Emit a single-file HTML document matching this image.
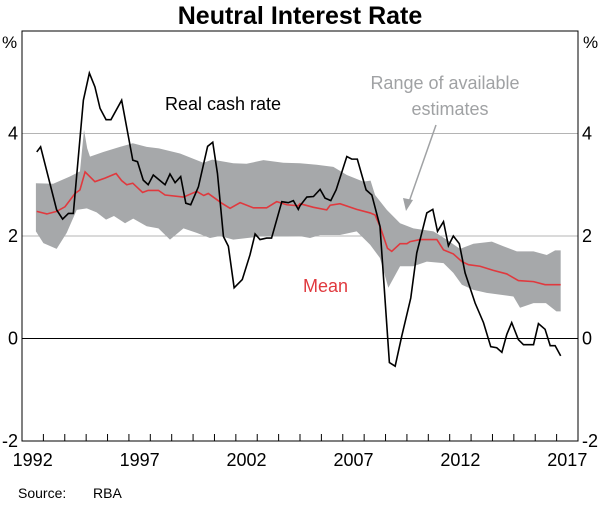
<!DOCTYPE html>
<html><head><meta charset="utf-8"><style>
body{margin:0;background:#fff;font-family:"Liberation Sans",Arial,sans-serif}
svg text{font-family:"Liberation Sans",Arial,sans-serif}
</style></head><body>
<svg id="chart" width="600" height="500" xmlns="http://www.w3.org/2000/svg">
<text x="300" y="24" text-anchor="middle" font-size="25" font-weight="bold">Neutral Interest Rate</text>
<g id="grid"></g>
<g id="band"></g>
<g id="lines"></g>
<g id="axes"></g>
<text x="165" y="110" font-size="18" fill="#000">Real cash rate</text>
<text x="445" y="89" text-anchor="middle" font-size="18" fill="#a0a2a4">Range of available</text>
<text x="450" y="115" text-anchor="middle" font-size="18" fill="#a0a2a4">estimates</text>
<line x1="436" y1="125" x2="409" y2="202" stroke="#a0a2a4" stroke-width="1.5"/>
<polygon points="406,211 403,198 413,200" fill="#a0a2a4"/>
<text x="303" y="292" font-size="18" fill="#e0393e">Mean</text>
<text x="18" y="498" font-size="14">Source:</text>
<text x="93" y="498" font-size="14">RBA</text>
</svg>
<script>
const cashT=[1992.69,1992.87,1993.62,1993.9,1994.17,1994.4,1994.87,1995.15,1995.41,1995.65,1995.93,1996.16,1996.66,1997.18,1997.4,1997.67,1997.9,1998.14,1998.69,1998.92,1999.16,1999.42,1999.66,1999.89,2000.25,2000.68,2000.92,2001.14,2001.42,2001.65,2001.92,2002.3,2002.66,2002.9,2003.13,2003.44,2003.67,2004.15,2004.45,2004.69,2004.92,2005.0,2005.32,2005.63,2005.94,2006.17,2006.44,2006.69,2007.19,2007.42,2007.68,2008.09,2008.36,2008.74,2009.18,2009.45,2009.76,2010.18,2010.46,2010.93,2011.21,2011.43,2011.71,2011.94,2012.17,2012.45,2012.72,2013.19,2013.58,2013.92,2014.2,2014.44,2014.67,2014.9,2015.21,2015.45,2015.74,2015.92,2016.15,2016.46,2016.7,2016.93,2017.19];
const cashV=[3.64,3.74,2.51,2.33,2.44,2.44,4.65,5.18,4.91,4.49,4.27,4.27,4.65,3.48,3.45,3.09,3.0,3.19,3.0,3.21,3.04,3.16,2.64,2.61,2.96,3.75,3.83,3.22,1.99,1.8,0.99,1.15,1.63,2.04,1.93,1.96,1.96,2.67,2.65,2.69,2.52,2.59,2.76,2.77,2.91,2.74,2.69,2.9,3.55,3.5,3.5,2.9,2.8,2.19,-0.47,-0.54,0.05,0.79,1.67,2.45,2.52,2.09,2.28,1.81,2.0,1.85,1.28,0.69,0.31,-0.16,-0.18,-0.27,0.08,0.31,-0.02,-0.12,-0.12,-0.12,0.29,0.18,-0.14,-0.14,-0.34];
const meanT=[1992.69,1993.16,1993.62,1994.01,1994.48,1994.71,1994.95,1995.41,1995.88,1996.4,1996.66,1996.9,1997.18,1997.64,1997.9,1998.38,1998.69,1999.55,2000.17,2000.5,2000.71,2001.34,2001.73,2002.2,2002.82,2003.44,2003.91,2004.38,2004.92,2005.0,2005.63,2006.25,2006.41,2006.87,2007.65,2008.28,2008.51,2008.74,2009.09,2009.29,2009.68,2010.0,2010.15,2010.62,2011.09,2011.4,2011.71,2012.17,2012.57,2012.88,2013.42,2014.04,2014.67,2015.21,2015.92,2016.46,2017.19];
const meanV=[2.48,2.43,2.48,2.57,2.83,2.9,3.25,3.06,3.13,3.22,3.08,3.0,3.03,2.85,2.89,2.89,2.8,2.76,2.87,2.79,2.83,2.64,2.54,2.65,2.55,2.55,2.67,2.61,2.59,2.63,2.56,2.51,2.6,2.63,2.52,2.45,2.41,2.19,1.76,1.7,1.85,1.85,1.89,1.93,1.93,1.93,1.73,1.65,1.5,1.44,1.41,1.33,1.26,1.13,1.11,1.05,1.05];
const upT=[1992.65,1993.46,1994.24,1994.71,1994.9,1995.05,1995.18,1995.8,1996.58,1997.18,1997.83,1998.4,1999.39,2000.48,2000.9,2001.88,2002.5,2003.29,2004.22,2005.0,2005.78,2006.56,2007.19,2007.96,2008.3,2008.51,2009.06,2009.68,2010.3,2011.24,2011.86,2012.48,2013.11,2013.97,2014.51,2015.14,2015.92,2016.54,2016.93,2017.19];
const upV=[3.03,3.02,3.16,3.26,4.07,3.71,3.55,3.64,3.74,3.81,3.74,3.71,3.61,3.43,3.49,3.42,3.41,3.48,3.43,3.42,3.39,3.35,3.19,3.06,3.08,2.8,2.51,2.25,2.15,2.09,1.93,1.75,1.85,1.89,1.8,1.7,1.7,1.63,1.72,1.72];
const loT=[1992.65,1993.0,1993.62,1994.09,1994.56,1995.03,1995.49,1995.93,1996.3,1996.82,1997.2,1997.83,1998.38,1998.92,1999.55,2000.17,2000.79,2001.26,2001.88,2003.13,2004.38,2004.96,2005.47,2005.94,2006.87,2007.65,2008.28,2008.74,2009.13,2009.68,2010.3,2010.93,2011.71,2012.17,2012.57,2013.11,2013.73,2014.98,2015.29,2015.92,2016.5,2016.99,2017.19];
const loV=[2.09,1.86,1.75,2.06,2.51,2.54,2.46,2.32,2.39,2.25,2.34,2.19,2.15,1.93,2.15,2.06,1.96,2.0,1.93,1.99,1.99,2.0,1.96,2.02,2.02,2.09,1.83,1.57,0.99,1.41,1.41,1.5,1.47,1.28,1.05,0.95,0.89,0.82,0.6,0.69,0.69,0.53,0.53];
const yTicks=[-2,0,2,4];
const xLabels=[1992,1997,2002,2007,2012,2017];

const X0=22,X1=578,Y0=31,Y1=441;
const xS=t=>X0+(t-1992)*(X1-X0)/26;
const yS=v=>Y1-(v+2)*(Y1-Y0)/8;
const NS="http://www.w3.org/2000/svg";
function mk(tag,attrs,parent){const e=document.createElementNS(NS,tag);for(const k in attrs)e.setAttribute(k,attrs[k]);parent.appendChild(e);return e;}
const grid=document.getElementById('grid'),band=document.getElementById('band'),lines=document.getElementById('lines'),axes=document.getElementById('axes');
yTicks.forEach(v=>{
 if(v===-2)return;
 const l=mk('line',{x1:X0,x2:X1,y1:yS(v),y2:yS(v),stroke:v===0?'#000':'#b4b4b4','stroke-width':1},grid);
 
 
});
let pts=upT.map((t,i)=>xS(t)+','+yS(upV[i]));
for(let i=loT.length-1;i>=0;i--)pts.push(xS(loT[i])+','+yS(loV[i]));
const poly=mk('polygon',{points:pts.join(' '),fill:'#a6a8aa'},band);


const mean=mk('polyline',{points:meanT.map((t,i)=>xS(t)+','+yS(meanV[i])).join(' '),fill:'none',stroke:'#e0393e','stroke-width':1.6},lines);


const cash=mk('polyline',{points:cashT.map((t,i)=>xS(t)+','+yS(cashV[i])).join(' '),fill:'none',stroke:'#000','stroke-width':1.6},lines);


const frame=mk('rect',{x:X0,y:Y0,width:X1-X0,height:Y1-Y0,fill:'none',stroke:'#000','stroke-width':1},axes);


for(let y=1993;y<=2017;y++){
 const t=mk('line',{x1:xS(y),x2:xS(y),y1:Y1,y2:Y1-7,stroke:'#000','stroke-width':1},axes);
 
 
}
xLabels.forEach(y=>{
 const t=mk('text',{x:xS(y+0.5),y:Y1+25,'text-anchor':'middle','font-size':18},axes);
 t.textContent=y;
 
 
});
yTicks.forEach(v=>{
 const a=mk('text',{x:18,y:yS(v)+6,'text-anchor':'end','font-size':18},axes);
 a.textContent=v;
 
 
 const b=mk('text',{x:582,y:yS(v)+6,'text-anchor':'start','font-size':18},axes);
 b.textContent=v;
 
 
});
const pl=mk('text',{x:2,y:48,'font-size':17},axes);pl.textContent='%';


const pr=mk('text',{x:583,y:48,'font-size':17},axes);pr.textContent='%';


</script>
</body></html>
